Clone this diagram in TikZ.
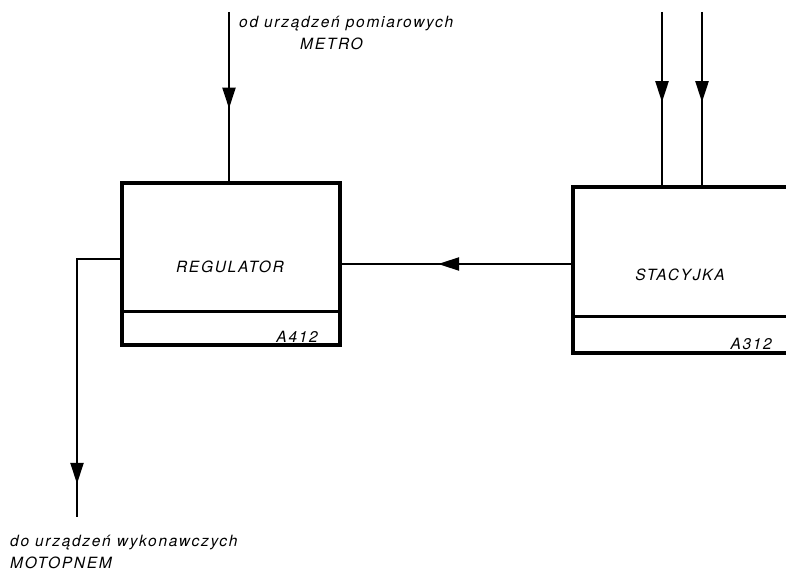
\documentclass[tikz,border=0pt]{standalone}
\usepackage{fontspec}
\newfontfamily\schemfont{TeX Gyre Heros}[LetterSpace=11]
\usetikzlibrary{arrows.meta, calc, decorations.markings}

\tikzset{
  block/.style={draw, line width=3.2pt, inner sep=0pt},
  wire/.style={line width=2.3pt},
  midarrow/.style={postaction={decorate}, decoration={markings,
      mark=at position #1 with {\arrow{Triangle[length=21pt, width=13pt]}}}},
  lbl/.style={font=\schemfont\itshape\fontsize{15.5}{17}\selectfont, inner sep=0pt}
}

\begin{document}
\begin{tikzpicture}[x=1pt, y=1pt]
  \clip (0,0) rectangle (786,-575);
  % blocks
  \node[block, minimum width=218pt, minimum height=162pt] (reg) at (231,-264) {};
  \node[block, minimum width=240pt, minimum height=166pt] (sta) at (693,-270) {};
  \draw[block] ($(reg.south west)+(0,35)$) -- ($(reg.south east)+(0,35)$);
  \draw[block] ($(sta.south west)+(0,38)$) -- ($(sta.south east)+(0,38)$);
  \node[lbl] (regname) at (230,-267) {REGULATOR};
  \node[lbl, anchor=base east] (regcode) at (318,-342) {A412};
  \node[lbl] (staname) at (680,-275) {STACYJKA};
  \node[lbl, anchor=base east] (stacode) at (772,-349) {A312};
  % signal ends
  \coordinate (metro) at (229,-12);
  \coordinate (in1) at (662,-12);
  \coordinate (in2) at (702,-12);
  \coordinate (motor) at (77,-517);
  % connectors
  \draw[wire, midarrow=0.57] (metro) -- (metro |- reg.north);
  \draw[wire, midarrow=0.52] (in1) -- (in1 |- sta.north);
  \draw[wire, midarrow=0.52] (in2) -- (in2 |- sta.north);
  \draw[wire, midarrow=0.58] (sta.west |- reg.east) -- (reg.east);
  \draw[wire, midarrow=0.89] ($(reg.west)+(0,5)$) -| (motor);
  % texts
  \node[lbl, anchor=base west] (metrotxt) at (239,-28) {od urządzeń pomiarowych};
  \node[lbl, anchor=base west] (metroname) at (300,-50) {METRO};
  \node[lbl, anchor=base west] (motortxt) at (10,-546) {do urządzeń wykonawczych};
  \node[lbl, anchor=base west] (motorname) at (10,-568) {MOTOPNEM};
\end{tikzpicture}
\end{document}
